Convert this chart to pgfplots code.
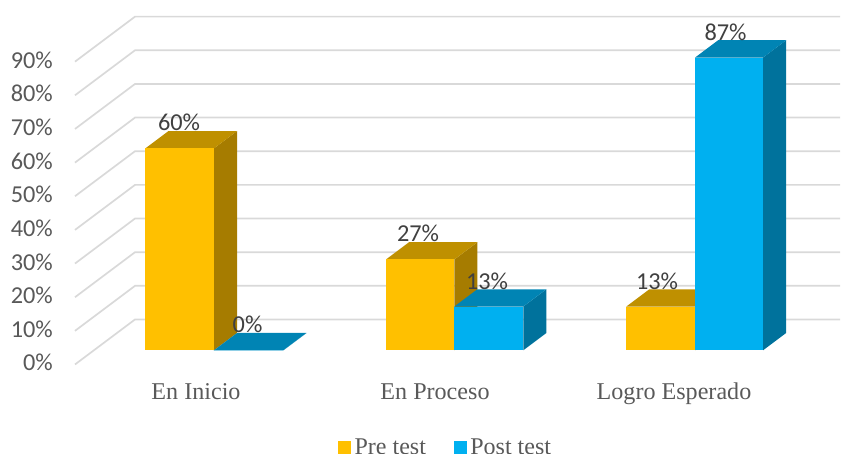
\documentclass[border=0pt]{standalone}
\usepackage{fontspec}
\setmainfont{Liberation Serif}
\newfontfamily\valuefont{Carlito}
\usepackage{pgfplots}
\pgfplotsset{compat=1.18}

\definecolor{preF}{HTML}{FFC000}
\definecolor{preT}{HTML}{BF9000}
\definecolor{preS}{HTML}{A67C00}
\definecolor{postF}{HTML}{00B0F0}
\definecolor{postT}{HTML}{0084B4}
\definecolor{postS}{HTML}{00729C}
\definecolor{gridc}{HTML}{D9D9D9}
\definecolor{txtc}{HTML}{595959}
\definecolor{lblc}{HTML}{404040}

% One box: left edge, right edge, value, face colours
\newcommand{\prism}[6]{%
  \addplot3[fill=#6,draw=none] coordinates {(#2,0.3156,0) (#2,0.7,0) (#2,0.7,#3) (#2,0.3156,#3)};
  \addplot3[fill=#5,draw=none] coordinates {(#1,0.3156,#3) (#2,0.3156,#3) (#2,0.7,#3) (#1,0.7,#3)};
  \addplot3[fill=#4,draw=none] coordinates {(#1,0.3156,0) (#2,0.3156,0) (#2,0.3156,#3) (#1,0.3156,#3)};
}
\newcommand{\vlabel}[3]{%
  \node[anchor=base,inner sep=0pt,text=lblc,font=\valuefont\fontsize{24.3}{26}\selectfont]
    at (axis cs:#1,0.3156,#2+5.2) {#3\%};
}
\newcommand{\catlabel}[2]{%
  \node[anchor=base,inner sep=0pt,text=txtc,font=\fontsize{24.1}{26}\selectfont]
    at (axis cs:#1,0,-10.34) {#2};
}

\begin{document}
\begin{tikzpicture}[x=1pt,y=1pt]
\path[use as bounding box] (0,-89.5) rectangle (841,364.5);
\begin{axis}[
  at={(0pt,0pt)}, anchor=origin,
  x={(1pt,0pt)}, y={(60pt,45pt)}, z={(0pt,3.365pt)},
  xmin=0, xmax=841, ymin=0, ymax=1, zmin=0, zmax=100,
  hide axis, clip=false,
  legend columns=2,
  legend cell align=left,
  legend style={
    at={(axis cs:338,0,-24.5)}, anchor=west, draw=none, fill=none,
    inner xsep=0pt, inner ysep=0pt,
    font=\fontsize{24}{26}\selectfont, text=txtc,
    /tikz/every odd column/.append style={column sep=2pt},
    /tikz/every even column/.append style={column sep=26pt},
  },
]
% Walls and floor lines at each ten percent
\pgfplotsinvokeforeach{0,10,...,90}{
  \addplot3[gridc,line width=1.7pt,forget plot] coordinates {(75,0,#1) (75,1,#1) (780,1,#1)};
}
\pgfplotsinvokeforeach{0,10,...,90}{
  \node[anchor=base east,inner sep=0pt,text=txtc,font=\valuefont\fontsize{24.3}{26}\selectfont]
    at (axis cs:53,0,#1-1.93) {#1\%};
}

\pgfplotsset{every axis plot/.append style={forget plot}}
% En Inicio
\prism{126.4}{195}{60}{preF}{preT}{preS}
\prism{195}{264.4}{0}{postF}{postT}{postS}
% En Proceso
\prism{367.1}{435.4}{27}{preF}{preT}{preS}
\prism{435.4}{504.4}{13}{postF}{postT}{postS}
% Logro Esperado
\prism{607.4}{676.1}{13}{preF}{preT}{preS}
\prism{676.1}{744.1}{87}{postF}{postT}{postS}

\vlabel{160.1}{60}{60}
\vlabel{228.6}{0}{0}
\vlabel{399.1}{27}{27}
\vlabel{468.1}{13}{13}
\vlabel{638.1}{13}{13}
\vlabel{706.6}{87}{87}

\catlabel{196}{En Inicio}
\catlabel{435}{En Proceso}
\catlabel{674}{Logro Esperado}

\pgfplotsset{every axis plot/.append style={forget plot=false}}
\addlegendimage{/pgfplots/legend image code/.code={\fill[preF] (0pt,-6pt) rectangle (12pt,6pt);}}
\addlegendentry{Pre test}
\addlegendimage{/pgfplots/legend image code/.code={\fill[postF] (0pt,-6pt) rectangle (12pt,6pt);}}
\addlegendentry{Post test}
\end{axis}
\end{tikzpicture}
\end{document}
